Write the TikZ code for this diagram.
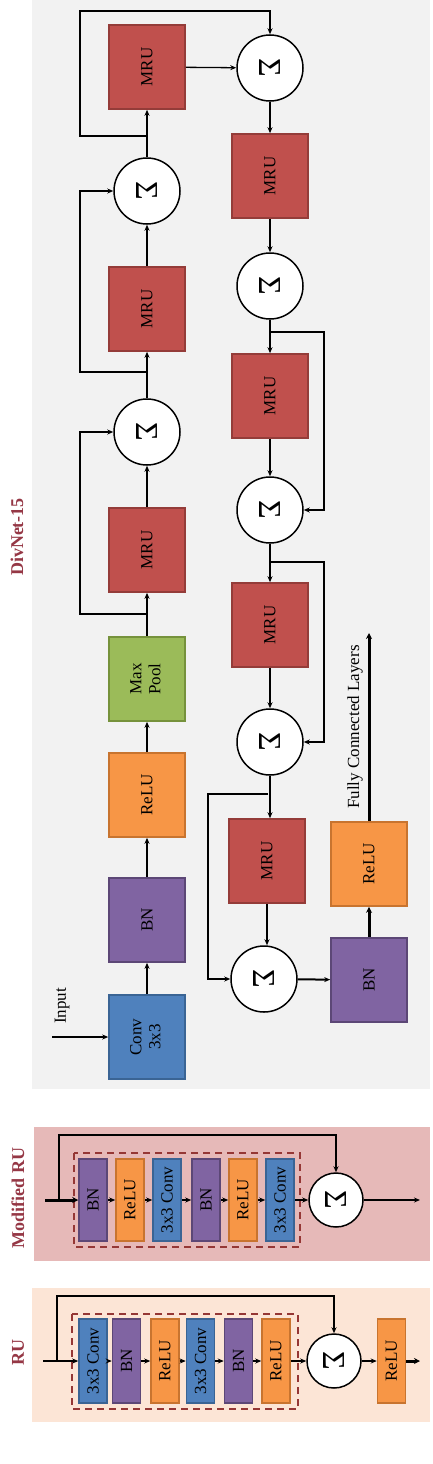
\documentclass[tikz,border=0pt]{standalone}
\usepackage{fontspec}
\setmainfont{Liberation Serif}
\usetikzlibrary{arrows.meta}
\definecolor{mrufill}{HTML}{C0504D}
\definecolor{mrudraw}{HTML}{943C39}
\definecolor{orfill}{HTML}{F79646}
\definecolor{ordraw}{HTML}{C8742F}
\definecolor{pufill}{HTML}{8064A2}
\definecolor{pudraw}{HTML}{5C4776}
\definecolor{blfill}{HTML}{4F81BD}
\definecolor{bldraw}{HTML}{3A6494}
\definecolor{grfill}{HTML}{9BBB59}
\definecolor{grdraw}{HTML}{76923C}
\definecolor{bggray}{HTML}{F2F2F2}
\definecolor{bgpink}{HTML}{E6B9B8}
\definecolor{bgpeach}{HTML}{FCE5D6}
\definecolor{lblred}{HTML}{953745}
\definecolor{dashred}{HTML}{953735}
\newcommand{\Sgm}{{\fontsize{32}{32}\selectfont\rotatebox{-90}{Σ}}}
\newcommand{\Rt}[1]{\rotatebox{90}{#1}}
\begin{document}
\begin{tikzpicture}[x=1pt,y=-1pt,
  font=\fontsize{17}{19}\selectfont,
  blk/.style={draw, line width=1.6pt, minimum width=76pt, minimum height=84pt, inner sep=0pt},
  mrub/.style={blk, fill=mrufill, draw=mrudraw},
  orb/.style={blk, fill=orfill, draw=ordraw},
  pub/.style={blk, fill=pufill, draw=pudraw},
  blb/.style={blk, fill=blfill, draw=bldraw},
  grb/.style={blk, fill=grfill, draw=grdraw},
  sblk/.style={draw, line width=1.5pt, minimum width=28pt, minimum height=82pt, inner sep=0pt},
  sor/.style={sblk, fill=orfill, draw=ordraw},
  spu/.style={sblk, fill=pufill, draw=pudraw},
  sbl/.style={sblk, fill=blfill, draw=bldraw},
  sig/.style={circle, draw=black, line width=1.5pt, fill=white, minimum size=66pt, inner sep=0pt},
  ssig/.style={sig, minimum size=54pt},
  ar/.style={line width=1.3pt, -{Stealth[length=6pt,width=5pt]}},
  sk/.style={line width=2pt, -{Stealth[length=6pt,width=5pt]}},
  thk/.style={line width=3pt, -{Stealth[length=6pt,width=6pt]}},
  lbl/.style={text=lblred, font=\fontsize{18}{20}\selectfont\bfseries},
  dbox/.style={draw=dashred, line width=2.2pt, dash pattern=on 7pt off 5pt}
]
\useasboundingbox (0,0) rectangle (432,1464);
% panels
\fill[bggray] (32,0) rectangle (430,1089);
\fill[bgpink] (34,1127) rectangle (430,1261);
\fill[bgpeach] (32,1288) rectangle (430,1422);
% labels
\node[lbl] (lbldiv) at (17,537) {\Rt{DivNet-15}};
\node[lbl] (lblmod) at (18,1198) {\Rt{Modified RU}};
\node[lbl] (lblru) at (18,1352) {\Rt{RU}};

% ---------------- DivNet-15 ----------------
\node[blb] (conv) at (147,1037) {\Rt{\begin{tabular}{@{}c@{}}Conv\\3x3\end{tabular}}};
\node[pub] (bn1) at (147,920) {\Rt{BN}};
\node[orb] (relu1) at (147,795) {\Rt{ReLU}};
\node[grb] (pool) at (147,679) {\Rt{\begin{tabular}{@{}c@{}}Max\\Pool\end{tabular}}};
\node[mrub] (mru1) at (147,550) {\Rt{MRU}};
\node[sig] (s1) at (147,432) {\Sgm};
\node[mrub] (mru2) at (147,309) {\Rt{MRU}};
\node[sig] (s2) at (147,191) {\Sgm};
\node[mrub] (mru3) at (147,67) {\Rt{MRU}};
\node[sig] (s3) at (270,68) {\Sgm};
\node[mrub] (mru4) at (270,176) {\Rt{MRU}};
\node[sig] (s4) at (270,286) {\Sgm};
\node[mrub] (mru5) at (270,396) {\Rt{MRU}};
\node[sig] (s5) at (270,510) {\Sgm};
\node[mrub] (mru6) at (270,625) {\Rt{MRU}};
\node[sig] (s6) at (270,742) {\Sgm};
\node[mrub] (mru7) at (267,861) {\Rt{MRU}};
\node[sig] (s7) at (264,979) {\Sgm};
\node[pub] (bn2) at (369,980) {\Rt{BN}};
\node[orb] (relu2) at (369,864) {\Rt{ReLU}};

\coordinate (inp) at (52,1037);
\node (inlbl) at (62,1006) {\Rt{Input}};
\coordinate (fc) at (369,633);
\node (fclbl) at (355,727) {\Rt{Fully Connected Layers}};

\draw[sk] (inp) -- (conv.west);
\draw[ar] (conv) -- (bn1);
\draw[ar] (bn1) -- (relu1);
\draw[ar] (relu1) -- (pool);
\draw[ar] (pool) -- (mru1);
\draw[ar] (mru1) -- (s1);
\draw[ar] (s1) -- (mru2);
\draw[ar] (mru2) -- (s2);
\draw[ar] (s2) -- (mru3);
\draw[ar] (mru3) -- (s3);
\draw[ar] (s3) -- (mru4);
\draw[ar] (mru4) -- (s4);
\draw[ar] (s4) -- (mru5);
\draw[ar] (mru5) -- (s5);
\draw[ar] (s5) -- (mru6);
\draw[ar] (mru6) -- (s6);
\draw[ar] (s6.south) -- (s6.south |- mru7.north);
\draw[ar] (mru7.south) -- (mru7.south |- s7.north);
\draw[sk] (s7) -- (bn2);
\draw[thk] (bn2) -- (relu2);
\draw[thk] (relu2) -- (fc);

% skip connections
\coordinate (b1) at (147,614);
\coordinate (b2) at (147,372);
\coordinate (b3) at (147,136);
\coordinate (b4) at (270,332);
\coordinate (b5) at (270,562);
\coordinate (b6) at (268,794);
\draw[sk] (b1) -- (80,614) |- (s1.west);
\draw[sk] (b2) -- (80,372) |- (s2.west);
\draw[sk] (b3) -- (80,136) -- (80,11) -| (s3.north);
\draw[sk] (b4) -- (324,332) |- (s5.east);
\draw[sk] (b5) -- (324,562) |- (s6.east);
\draw[sk] (b6) -- (208,794) |- (s7.west);

% ---------------- Modified RU ----------------
\draw[dbox] (74,1153) rectangle (300,1247);
\node[spu] (m1) at (93,1200) {\Rt{BN}};
\node[sor] (m2) at (130,1200) {\Rt{ReLU}};
\node[sbl] (m3) at (167,1200) {\Rt{3x3 Conv}};
\node[spu] (m4) at (206,1200) {\Rt{BN}};
\node[sor] (m5) at (243,1200) {\Rt{ReLU}};
\node[sbl] (m6) at (280,1200) {\Rt{3x3 Conv}};
\node[ssig] (ms) at (336,1200) {\Sgm};
\coordinate (min) at (45,1200);
\coordinate (mout) at (420,1200);
\draw[thk] (min) -- (m1);
\draw[sk] (m1) -- (m2);
\draw[sk] (m2) -- (m3);
\draw[sk] (m3) -- (m4);
\draw[sk] (m4) -- (m5);
\draw[sk] (m5) -- (m6);
\draw[sk] (m6) -- (ms);
\draw[ar] (ms) -- (mout);
\coordinate (mb) at (59,1200);
\draw[sk] (mb) -- (59,1135) -| (ms.north);

% ---------------- RU ----------------
\draw[dbox] (72,1314) rectangle (298,1409);
\node[sbl, minimum height=84pt] (r1) at (93,1361) {\Rt{3x3 Conv}};
\node[spu, minimum height=84pt] (r2) at (126.5,1361) {\Rt{BN}};
\node[sor, minimum height=84pt] (r3) at (165,1361) {\Rt{ReLU}};
\node[sbl, minimum height=84pt] (r4) at (200.5,1361) {\Rt{3x3 Conv}};
\node[spu, minimum height=84pt] (r5) at (238.5,1361) {\Rt{BN}};
\node[sor, minimum height=84pt] (r6) at (276,1361) {\Rt{ReLU}};
\node[ssig] (rs) at (334,1361) {\Sgm};
\node[sor, minimum height=84pt] (r7) at (391.5,1361) {\Rt{ReLU}};
\coordinate (rin) at (43,1361);
\coordinate (rout) at (420,1361);
\draw[sk] (rin) -- (r1);
\draw[sk] (r1) -- (r2);
\draw[sk] (r2) -- (r3);
\draw[sk] (r3) -- (r4);
\draw[sk] (r4) -- (r5);
\draw[sk] (r5) -- (r6);
\draw[sk] (r6) -- (rs);
\draw[ar] (rs) -- (r7);
\draw[thk] (r7) -- (rout);
\coordinate (rb) at (57,1361);
\draw[sk] (rb) -- (57,1296) -| (rs.north);
\end{tikzpicture}
\end{document}
